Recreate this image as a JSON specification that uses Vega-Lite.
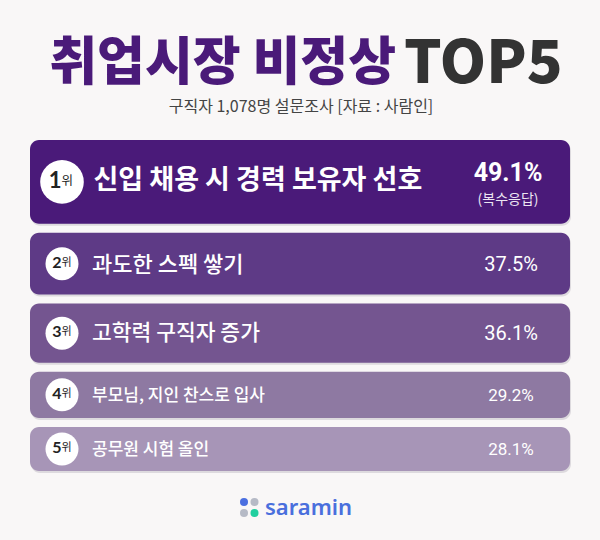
{
  "$schema": "https://vega.github.io/schema/vega-lite/v6.json",
  "width": 600,
  "height": 540,
  "autosize": {"type": "fit", "contains": "padding"},
  "padding": 0,
  "background": "#f9f7f7",
  "config": {"view": {"stroke": null}},
  "layer": [
    {
      "data": {
        "values": [
          {"rank": 1, "item": "신입 채용 시 경력 보유자 선호", "share": 0.491, "note": "(복수응답)"},
          {"rank": 2, "item": "과도한 스펙 쌓기", "share": 0.375},
          {"rank": 3, "item": "고학력 구직자 증가", "share": 0.361},
          {"rank": 4, "item": "부모님, 지인 찬스로 입사", "share": 0.292},
          {"rank": 5, "item": "공무원 시험 올인", "share": 0.281}
        ]
      },
      "transform": [
        {"stack": "share", "groupby": [], "sort": [{"field": "rank", "order": "ascending"}], "as": ["y0", "y1"]},
        {"calculate": "(datum.y0 + datum.y1) / 2", "as": "mid"}
      ],
      "layer": [
        {
          "mark": {"type": "rect", "cornerRadius": 9, "color": "#3a2a4a", "opacity": 0.14, "xOffset": 1, "x2Offset": 1, "yOffset": 6.5, "y2Offset": -2.5},
          "encoding": {
            "x": {"datum": 30, "type": "quantitative", "scale": {"domain": [0, 600], "nice": false, "zero": false}, "axis": null},
            "x2": {"datum": 570},
            "y": {"field": "y0", "type": "quantitative", "scale": {"domain": [-0.7174, 2.1414], "reverse": true, "nice": false, "zero": false}, "axis": null},
            "y2": {"field": "y1"}
          }
        },
        {
          "mark": {"type": "rect", "cornerRadius": 9, "yOffset": 4.5, "y2Offset": -4.5},
          "encoding": {
            "x": {"datum": 30, "type": "quantitative", "scale": {"domain": [0, 600], "nice": false, "zero": false}, "axis": null},
            "x2": {"datum": 570},
            "y": {"field": "y0", "type": "quantitative", "scale": {"domain": [-0.7174, 2.1414], "reverse": true, "nice": false, "zero": false}, "axis": null},
            "y2": {"field": "y1"},
            "color": {"field": "rank", "type": "ordinal", "scale": {"domain": [1, 2, 3, 4, 5], "range": ["#4a1a79", "#5e3a86", "#745590", "#8e79a2", "#a795b7"]}, "legend": null}
          }
        },
        {
          "mark": {"type": "circle", "color": "#ffffff", "opacity": 1, "filled": true},
          "encoding": {
            "x": {"datum": 62, "type": "quantitative", "scale": {"domain": [0, 600], "nice": false, "zero": false}, "axis": null},
            "y": {"field": "mid", "type": "quantitative", "scale": {"domain": [-0.7174, 2.1414], "reverse": true, "nice": false, "zero": false}, "axis": null},
            "size": {"condition": {"test": "datum.rank == 1", "value": 1900}, "value": 1089}
          }
        },
        {
          "mark": {"type": "text", "align": "right", "baseline": "middle", "font": "Lato", "fontWeight": "bold", "color": "#222222", "dy": -1},
          "encoding": {
            "x": {"datum": 61.5, "type": "quantitative", "scale": {"domain": [0, 600], "nice": false, "zero": false}, "axis": null},
            "y": {"field": "mid", "type": "quantitative", "scale": {"domain": [-0.7174, 2.1414], "reverse": true, "nice": false, "zero": false}, "axis": null},
            "text": {"field": "rank", "type": "nominal"},
            "size": {"condition": {"test": "datum.rank == 1", "value": 22}, "value": 16}
          }
        },
        {
          "mark": {"type": "text", "align": "left", "baseline": "middle", "font": "Noto Sans CJK KR", "color": "#222222", "dy": -1},
          "encoding": {
            "x": {"datum": 61.5, "type": "quantitative", "scale": {"domain": [0, 600], "nice": false, "zero": false}, "axis": null},
            "y": {"field": "mid", "type": "quantitative", "scale": {"domain": [-0.7174, 2.1414], "reverse": true, "nice": false, "zero": false}, "axis": null},
            "text": {"value": "위"},
            "size": {"condition": {"test": "datum.rank == 1", "value": 12.5}, "value": 11}
          }
        },
        {
          "transform": [{"filter": "datum.rank == 1"}],
          "mark": {"type": "text", "align": "left", "baseline": "middle", "font": "Noto Sans CJK KR", "fontWeight": 600, "fontSize": 27, "color": "#ffffff", "dy": -1},
          "encoding": {
            "x": {"datum": 93.5, "type": "quantitative", "scale": {"domain": [0, 600], "nice": false, "zero": false}, "axis": null},
            "y": {"field": "mid", "type": "quantitative", "scale": {"domain": [-0.7174, 2.1414], "reverse": true, "nice": false, "zero": false}, "axis": null},
            "text": {"field": "item", "type": "nominal"}
          }
        },
        {
          "transform": [{"filter": "datum.rank > 1"}],
          "mark": {"type": "text", "align": "left", "baseline": "middle", "font": "Noto Sans CJK KR", "fontWeight": 500, "color": "#ffffff", "dy": 1},
          "encoding": {
            "x": {"datum": 92, "type": "quantitative", "scale": {"domain": [0, 600], "nice": false, "zero": false}, "axis": null},
            "y": {"field": "mid", "type": "quantitative", "scale": {"domain": [-0.7174, 2.1414], "reverse": true, "nice": false, "zero": false}, "axis": null},
            "text": {"field": "item", "type": "nominal"},
            "size": {"condition": [{"test": "datum.rank == 2", "value": 22}, {"test": "datum.rank == 3", "value": 21.5}], "value": 17}
          }
        },
        {
          "transform": [{"filter": "datum.rank == 1"}],
          "mark": {"type": "text", "align": "center", "baseline": "middle", "font": "Roboto", "fontWeight": "bold", "fontSize": 25, "color": "#ffffff", "dy": -8.7},
          "encoding": {
            "x": {"datum": 508, "type": "quantitative", "scale": {"domain": [0, 600], "nice": false, "zero": false}, "axis": null},
            "y": {"field": "mid", "type": "quantitative", "scale": {"domain": [-0.7174, 2.1414], "reverse": true, "nice": false, "zero": false}, "axis": null},
            "text": {"field": "share", "type": "quantitative", "format": ".1%"}
          }
        },
        {
          "transform": [{"filter": "datum.rank == 1"}],
          "mark": {"type": "text", "align": "center", "baseline": "middle", "font": "Noto Sans CJK KR", "fontSize": 14, "color": "#ece6f2", "dy": 18},
          "encoding": {
            "x": {"datum": 508, "type": "quantitative", "scale": {"domain": [0, 600], "nice": false, "zero": false}, "axis": null},
            "y": {"field": "mid", "type": "quantitative", "scale": {"domain": [-0.7174, 2.1414], "reverse": true, "nice": false, "zero": false}, "axis": null},
            "text": {"field": "note", "type": "nominal"}
          }
        },
        {
          "transform": [{"filter": "datum.rank > 1"}],
          "mark": {"type": "text", "align": "center", "baseline": "middle", "font": "Roboto", "fontWeight": 400, "color": "#ffffff", "dy": 1},
          "encoding": {
            "x": {"datum": 511, "type": "quantitative", "scale": {"domain": [0, 600], "nice": false, "zero": false}, "axis": null},
            "y": {"field": "mid", "type": "quantitative", "scale": {"domain": [-0.7174, 2.1414], "reverse": true, "nice": false, "zero": false}, "axis": null},
            "text": {"field": "share", "type": "quantitative", "format": ".1%"},
            "size": {"condition": {"test": "datum.rank <= 3", "value": 20}, "value": 17}
          }
        }
      ]
    },
    {
      "data": {"values": [{"part": "취업시장 비정상"}]},
      "mark": {"type": "text", "align": "right", "baseline": "alphabetic", "font": "Noto Sans CJK KR", "fontWeight": 900, "fontSize": 52, "color": "#4a1a79"},
      "encoding": {
        "x": {"datum": 396, "type": "quantitative", "scale": {"domain": [0, 600], "nice": false, "zero": false}, "axis": null},
        "y": {"datum": -0.2939, "type": "quantitative", "scale": {"domain": [-0.7174, 2.1414], "reverse": true, "nice": false, "zero": false}, "axis": null},
        "text": {"field": "part", "type": "nominal"}
      }
    },
    {
      "data": {"values": [{"part": "TOP5"}]},
      "mark": {"type": "text", "align": "left", "baseline": "alphabetic", "font": "Noto Sans CJK KR", "fontWeight": 900, "fontSize": 59, "color": "#333333"},
      "encoding": {
        "x": {"datum": 404, "type": "quantitative", "scale": {"domain": [0, 600], "nice": false, "zero": false}, "axis": null},
        "y": {"datum": -0.278, "type": "quantitative", "scale": {"domain": [-0.7174, 2.1414], "reverse": true, "nice": false, "zero": false}, "axis": null},
        "text": {"field": "part", "type": "nominal"}
      }
    },
    {
      "data": {"values": [{"sub": "구직자 1,078명 설문조사 [자료 : 사람인]"}]},
      "mark": {"type": "text", "align": "center", "baseline": "alphabetic", "font": "Noto Sans CJK KR", "fontSize": 16, "color": "#444444"},
      "encoding": {
        "x": {"datum": 301, "type": "quantitative", "scale": {"domain": [0, 600], "nice": false, "zero": false}, "axis": null},
        "y": {"datum": -0.1245, "type": "quantitative", "scale": {"domain": [-0.7174, 2.1414], "reverse": true, "nice": false, "zero": false}, "axis": null},
        "text": {"field": "sub", "type": "nominal"}
      }
    },
    {
      "data": {"values": [{}]},
      "mark": {"type": "circle", "color": "#4b6fe0", "opacity": 1, "size": 64},
      "encoding": {
        "x": {"datum": 244, "type": "quantitative", "scale": {"domain": [0, 600], "nice": false, "zero": false}, "axis": null},
        "y": {"datum": 1.9402, "type": "quantitative", "scale": {"domain": [-0.7174, 2.1414], "reverse": true, "nice": false, "zero": false}, "axis": null}
      }
    },
    {
      "data": {"values": [{}]},
      "mark": {"type": "circle", "color": "#b6bac6", "opacity": 1, "size": 64},
      "encoding": {
        "x": {"datum": 254.5, "type": "quantitative", "scale": {"domain": [0, 600], "nice": false, "zero": false}, "axis": null},
        "y": {"datum": 1.9402, "type": "quantitative", "scale": {"domain": [-0.7174, 2.1414], "reverse": true, "nice": false, "zero": false}, "axis": null}
      }
    },
    {
      "data": {"values": [{}]},
      "mark": {"type": "circle", "color": "#b6bac6", "opacity": 1, "size": 64},
      "encoding": {
        "x": {"datum": 244, "type": "quantitative", "scale": {"domain": [0, 600], "nice": false, "zero": false}, "axis": null},
        "y": {"datum": 1.9985, "type": "quantitative", "scale": {"domain": [-0.7174, 2.1414], "reverse": true, "nice": false, "zero": false}, "axis": null}
      }
    },
    {
      "data": {"values": [{}]},
      "mark": {"type": "circle", "color": "#21cf9f", "opacity": 1, "size": 64},
      "encoding": {
        "x": {"datum": 254.5, "type": "quantitative", "scale": {"domain": [0, 600], "nice": false, "zero": false}, "axis": null},
        "y": {"datum": 1.9985, "type": "quantitative", "scale": {"domain": [-0.7174, 2.1414], "reverse": true, "nice": false, "zero": false}, "axis": null}
      }
    },
    {
      "data": {"values": [{"brand": "saramin"}]},
      "mark": {"type": "text", "align": "left", "baseline": "alphabetic", "font": "Noto Sans", "fontWeight": 600, "fontSize": 22, "color": "#4a6fdd"},
      "encoding": {
        "x": {"datum": 265, "type": "quantitative", "scale": {"domain": [0, 600], "nice": false, "zero": false}, "axis": null},
        "y": {"datum": 2.0091, "type": "quantitative", "scale": {"domain": [-0.7174, 2.1414], "reverse": true, "nice": false, "zero": false}, "axis": null},
        "text": {"field": "brand", "type": "nominal"}
      }
    }
  ]
}
